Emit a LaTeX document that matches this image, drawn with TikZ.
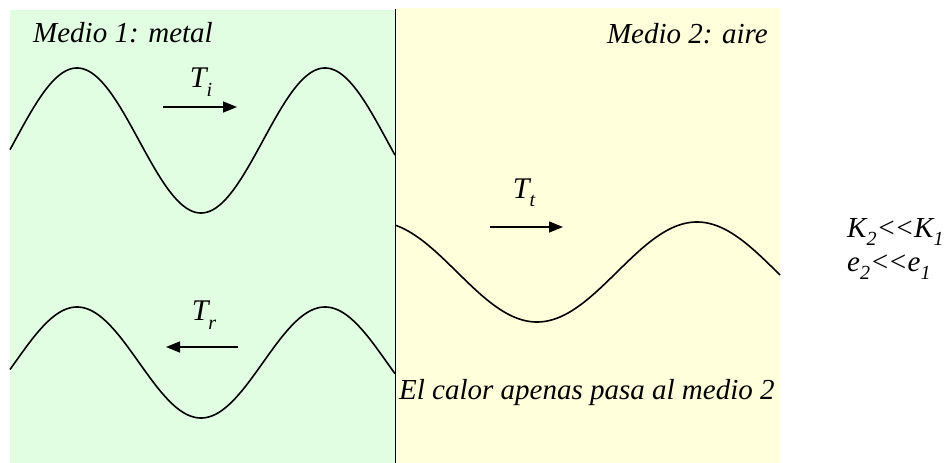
\documentclass[tikz,border=0pt]{standalone}
\usepackage{fontspec}
\setmainfont{Liberation Serif}
\usetikzlibrary{arrows.meta}
\definecolor{greenbg}{HTML}{E2FEE2}
\definecolor{yellowbg}{HTML}{FFFFDC}
\newcommand{\lowidx}[1]{\raisebox{-0.28em}{\fontsize{20}{20}\selectfont #1}}
\newcommand{\mylt}{<\kern-1.5pt<}
\tikzset{
  wave/.style={line width=1.6pt, line join=round, samples=300, smooth},
  flow/.style={line width=1.5pt, -{Triangle[length=14pt,width=11pt]}},
  lbl/.style={font=\fontsize{29}{34}\selectfont\itshape, inner sep=0pt},
  tlbl/.style={font=\fontsize{30}{34}\selectfont\itshape, inner sep=0pt}
}
\begin{document}
\begin{tikzpicture}[x=1pt,y=-1pt]
\useasboundingbox (0,0) rectangle (946,463);
% backgrounds
\fill[greenbg] (10,10) rectangle (395,463);
\fill[yellowbg] (396,8) rectangle (780,463);
\draw[line width=1.5pt] (395.5,9) -- (395.5,463);
% waves
\draw[wave] plot[domain=10:395] (\x,{140.5-72.5*cos((\x-77)*1.45161)});
\draw[wave] plot[domain=10:395] (\x,{362.5-55.5*cos((\x-77)*1.45161)});
\draw[wave] plot[domain=396:780] (\x,{272-50*cos((\x-697)*1.125)});
% arrows
\coordinate (ti1) at (163,107); \coordinate (ti2) at (237,107);
\coordinate (tr1) at (238,347); \coordinate (tr2) at (166,347);
\coordinate (tt1) at (490,227); \coordinate (tt2) at (563,227);
\draw[flow] (ti1) -- (ti2);
\draw[flow] (tr1) -- (tr2);
\draw[flow] (tt1) -- (tt2);
% labels
\node[tlbl] (Ti) at (201,82) {T\lowidx{i}};
\node[tlbl] (Tr) at (204,315) {T\lowidx{r}};
\node[tlbl] (Tt) at (524,193) {T\lowidx{t}};
\node[lbl, anchor=west] (m1) at (33,33) {Medio 1: metal};
\node[lbl, anchor=east] (m2) at (768,34) {Medio 2: aire};
\node[lbl, anchor=west] (calor) at (399,393) {El calor apenas pasa al medio 2};
\node[lbl, anchor=west] (k) at (847,232) {K\lowidx{2}\mylt K\lowidx{1}};
\node[lbl, anchor=west] (e) at (847,267) {e\lowidx{2}\mylt e\lowidx{1}};
\end{tikzpicture}
\end{document}
